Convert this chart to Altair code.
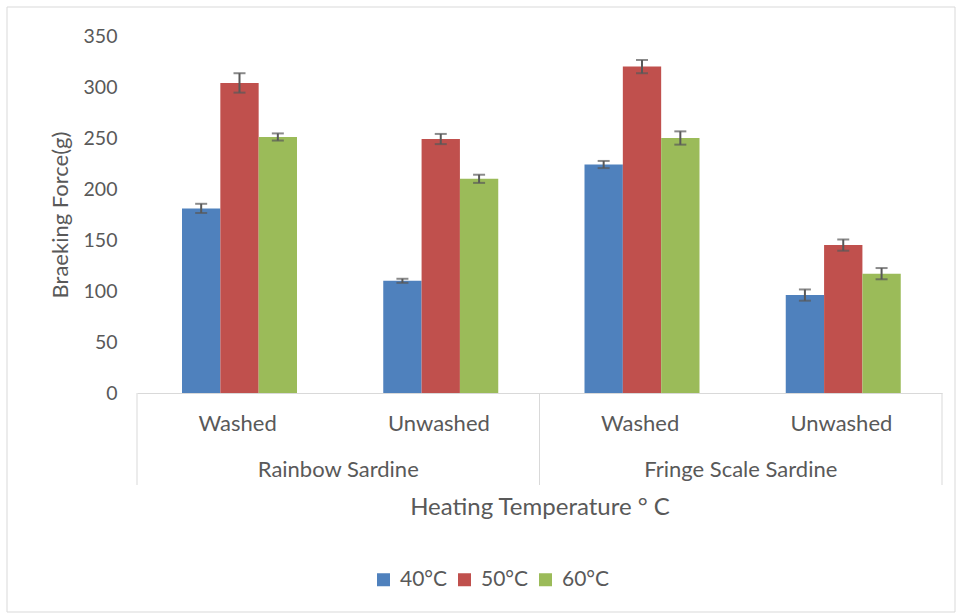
import altair as alt
import pandas as pd

species = ["Rainbow Sardine", "Rainbow Sardine", "Fringe Scale Sardine", "Fringe Scale Sardine"]
treatment = ["Washed", "Unwashed", "Washed", "Unwashed"]
series = ["40°C", "50°C", "60°C"]
vals_40 = [181, 110, 224, 96]
vals_50 = [304, 249, 320, 145]
vals_60 = [251, 210, 250, 117]
err_40 = [4.5, 2, 3.5, 5.5]
err_50 = [9.5, 5, 6.5, 5.5]
err_60 = [3.5, 4, 6.5, 5.5]
colors = ["#4F81BD", "#C0504D", "#9BBB59"]
species_names = ["Rainbow Sardine", "Fringe Scale Sardine"]

keys = [f"{s}|{t}" for s, t in zip(species, treatment)]
rows = []
for ser, vals, errs in zip(series, [vals_40, vals_50, vals_60], [err_40, err_50, err_60]):
    for k, v, e in zip(keys, vals, errs):
        rows.append({"key": k, "series": ser, "value": v, "lo": v - e, "hi": v + e})
df = pd.DataFrame(rows)

W, H = 805, 357
TXT = "#595959"
FONT = "Lato"
YT = "Braeking Force(g)"

xscale = alt.Scale(domain=keys, paddingInner=0, paddingOuter=0)
xoff = alt.XOffset("series:N", sort=series,
                   scale=alt.Scale(domain=series, range=[45, 160], paddingOuter=0, paddingInner=0))
yscale = alt.Scale(domain=[0, 350], nice=False)

bars = alt.Chart(df).mark_bar().encode(
    x=alt.X("key:N", scale=xscale, sort=keys,
            axis=alt.Axis(title="Heating Temperature ° C",
                          labelExpr="split(datum.label, '|')[1]",
                          labelAngle=0, ticks=False, domainColor="#D9D9D9",
                          labelPadding=30, labelBaseline="middle", labelFontSize=22,
                          titleY=114, titleBaseline="middle", titleFontSize=24)),
    xOffset=xoff,
    y=alt.Y("value:Q", scale=yscale, title=YT,
            axis=alt.Axis(values=list(range(0, 351, 50)), grid=False, domain=False,
                          ticks=False, labelPadding=20, labelFontSize=19.5,
                          titleX=-77, titleBaseline="middle", titleFontSize=22)),
    color=alt.Color("series:N", sort=series, scale=alt.Scale(domain=series, range=colors),
                    legend=alt.Legend(orient="none", legendX=236, legendY=533,
                                      direction="horizontal", title=None,
                                      symbolType="square", symbolSize=169,
                                      symbolStrokeWidth=0, labelFontSize=21,
                                      labelColor=TXT, labelFont=FONT,
                                      columnPadding=6, labelOffset=6)),
)

err_rule = alt.Chart(df).mark_rule(color="#595959", strokeWidth=2).encode(
    x=alt.X("key:N", scale=xscale, sort=keys),
    xOffset=xoff,
    y=alt.Y("lo:Q", scale=yscale, title=YT),
    y2="hi:Q",
)
cap_lo = alt.Chart(df).mark_tick(color="#595959", size=12, thickness=2, orient="horizontal").encode(
    x=alt.X("key:N", scale=xscale, sort=keys),
    xOffset=xoff,
    y=alt.Y("lo:Q", scale=yscale, title=YT),
)
cap_hi = alt.Chart(df).mark_tick(color="#595959", size=12, thickness=2, orient="horizontal").encode(
    x=alt.X("key:N", scale=xscale, sort=keys),
    xOffset=xoff,
    y=alt.Y("hi:Q", scale=yscale, title=YT),
)

first_keys = [keys[species.index(s)] for s in species_names]
sep_df = pd.DataFrame({"key": first_keys})
sep_left = alt.Chart(sep_df).mark_rule(color="#D9D9D9", strokeWidth=1).encode(
    x=alt.X("key:N", scale=xscale, sort=keys, bandPosition=0),
    y=alt.value(H), y2=alt.value(H + 92),
)
sep_right = alt.Chart(pd.DataFrame({"key": [keys[-1]]})).mark_rule(color="#D9D9D9", strokeWidth=1).encode(
    x=alt.X("key:N", scale=xscale, sort=keys, bandPosition=1),
    y=alt.value(H), y2=alt.value(H + 92),
)

grp_df = pd.DataFrame({"key": first_keys, "name": species_names})
grp_labels = alt.Chart(grp_df).mark_text(font=FONT, fontSize=22, color=TXT, baseline="middle").encode(
    x=alt.X("key:N", scale=xscale, sort=keys, bandPosition=1),
    y=alt.value(434),
    text="name:N",
)

border = alt.Chart(alt.InlineData(values=[{"a": 1}])).mark_rect(fill=None, stroke="#D9D9D9", strokeWidth=1).encode(
    x=alt.value(-130), x2=alt.value(818), y=alt.value(-29), y2=alt.value(576),
)

chart = alt.layer(border, bars, err_rule, cap_lo, cap_hi, sep_left, sep_right, grp_labels).properties(
    width=W, height=H,
    autosize=alt.AutoSizeParams(type="none"),
    padding={"left": 137, "top": 36, "right": 16, "bottom": 222},
).configure(
    font=FONT,
    background="white",
).configure_view(stroke=None).configure_axis(
    labelFont=FONT, titleFont=FONT,
    labelColor=TXT, titleColor=TXT, titleFontWeight="normal",
)

chart.save("out.html", embed_options={"renderer": "svg", "actions": False})
